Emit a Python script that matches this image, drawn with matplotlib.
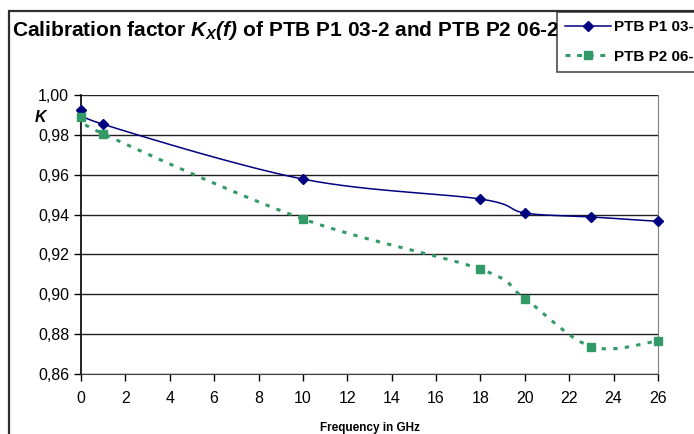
import numpy as np
import matplotlib
matplotlib.use("Agg")
import matplotlib.pyplot as plt
from matplotlib.patches import Rectangle

plt.rcParams['font.family'] = ['Liberation Sans', 'DejaVu Sans']
plt.rcParams['mathtext.fontset'] = 'custom'
plt.rcParams['mathtext.rm'] = 'Liberation Sans:bold:italic'
plt.rcParams['mathtext.it'] = 'Liberation Sans:bold:italic'
plt.rcParams['mathtext.bf'] = 'Liberation Sans:bold'

freq = [0, 1, 10, 18, 20, 23, 26]
k_p1 = [0.9925, 0.9853, 0.9578, 0.9478, 0.9408, 0.9388, 0.9366]
k_p2 = [0.9890, 0.9805, 0.9378, 0.9126, 0.8978, 0.8737, 0.8766]
names = ['PTB P1 03-2', 'PTB P2 06-2']

yticks = [0.86, 0.88, 0.90, 0.92, 0.94, 0.96, 0.98, 1.00]
ytick_labels = ['0,86', '0,88', '0,90', '0,92', '0,94', '0,96', '0,98', '1,00']
xticks = list(range(0, 27, 2))


def smooth(x, y, n=30):
    # Excel-like smoothed line (Bezier through the data points)
    x = np.asarray(x, float)
    y = np.asarray(y, float)
    px = np.concatenate([[x[0]], x, [x[-1]]])
    py = np.concatenate([[y[0]], y, [y[-1]]])
    xs, ys = [], []
    for i in range(1, len(px) - 2):
        p0 = np.array([px[i - 1], py[i - 1]])
        p1 = np.array([px[i], py[i]])
        p2 = np.array([px[i + 1], py[i + 1]])
        p3 = np.array([px[i + 2], py[i + 2]])
        c1 = p1 + (p2 - p0) / 6
        c2 = p2 - (p3 - p1) / 6
        t = np.linspace(0, 1, n)[:, None]
        pts = ((1 - t) ** 3 * p1 + 3 * (1 - t) ** 2 * t * c1
               + 3 * (1 - t) * t ** 2 * c2 + t ** 3 * p2)
        xs.extend(pts[:, 0])
        ys.extend(pts[:, 1])
    return xs, ys


fig = plt.figure(figsize=(6.94, 4.34), dpi=100)
ax = fig.add_axes([81 / 694, 1 - 374 / 434, (658 - 81) / 694, (374 - 95) / 434])

c1 = '#000080'
c2 = '#339966'

sx, sy = smooth(freq, k_p1)
ax.plot(sx, sy, color=c1, lw=1.1, zorder=3)
ax.plot(freq, k_p1, ls='none', marker='D', ms=5, color=c1, zorder=4, clip_on=False)
sx, sy = smooth(freq, k_p2)
ax.plot(sx, sy, color=c2, lw=2.2, ls=(0, (1.4, 2.4)), zorder=3)
ax.plot(freq, k_p2, ls='none', marker='s', ms=5.5, color=c2, zorder=4, clip_on=False)

# legend proxies
h1, = ax.plot([], [], color=c1, lw=1.1, marker='D', ms=5)
h2, = ax.plot([], [], color=c2, lw=2.2, ls=(0, (1.6, 2.2)), marker='s', ms=5.5)

ax.set_xlim(0, 26)
ax.set_ylim(0.86, 1.00)
ax.set_xticks(xticks)
ax.set_yticks(yticks)
ax.set_yticklabels(ytick_labels)
ax.tick_params(labelsize=11.5, length=5, width=1, colors='black')
ax.tick_params(axis='x', pad=7)
ax.grid(axis='y', color='#202020', lw=1)
ax.set_axisbelow(True)
ax.spines['top'].set_visible(False)
ax.spines['right'].set_color('#808080')
ax.spines['left'].set_linewidth(1.2)
ax.spines['bottom'].set_color('#404040')

ax.set_xlabel('Frequency in GHz', fontsize=8.5, fontweight='bold', labelpad=12)
fig.text(40 / 694, 1 - 117 / 434, 'K', fontsize=11.5, fontweight='bold',
         fontstyle='italic', ha='center', va='center')

fig.text(12 / 694, 1 - 31 / 434,
         r'Calibration factor $K_{X}\mathrm{(f)}$ of PTB P1 03-2 and PTB P2 06-2',
         fontsize=15, fontweight='bold', ha='left', va='center')

leg = fig.legend([h1, h2], names, loc='upper left',
                 bbox_to_anchor=(557 / 694, 1 - 12 / 434), frameon=True,
                 fancybox=False, edgecolor='#202020', borderaxespad=0,
                 prop={'weight': 'bold', 'size': 11}, handlelength=3.0,
                 labelspacing=1.0, handletextpad=0.2, borderpad=0.55)
leg.get_frame().set_linewidth(1.2)

fig.add_artist(Rectangle((9 / 694, -0.1), 1.2, 0.1 + 1 - 11 / 434,
                         transform=fig.transFigure, fill=False,
                         ec='#303030', lw=1.6, zorder=0))

fig.savefig('out.png', dpi=100)
